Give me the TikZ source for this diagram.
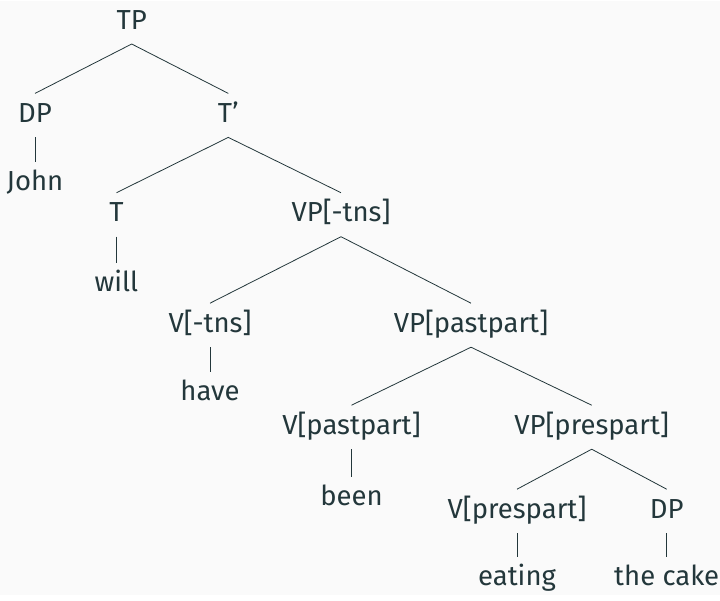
\documentclass[tikz,border=0pt]{standalone}
\usepackage{fontspec}
\setmainfont{Fira Sans}
\usepackage{tikz}
\definecolor{darkteal}{HTML}{23373B}
\definecolor{bgpaper}{HTML}{FAFAFA}
\tikzset{cat/.style={anchor=base,inner sep=0pt,outer sep=0pt,text height=29pt,text depth=15pt,font=\fontsize{27.5}{33}\selectfont,text=darkteal},
         branch/.style={draw=darkteal,line width=0.8pt}}
\begin{document}
\begin{tikzpicture}[x=1pt,y=-1pt]
                    \fill [bgpaper] (0,0) rectangle (720,594);
                    \node [cat] (tp) at (131.7,28.3) {TP};
                    \node [cat] (dp) at (35,121.7) {DP};
                    \node [cat] (tbar) at (228.3,121.7) {T'};
                    \node [cat] (john) at (35,190) {John};
                    \node [cat] (t) at (116.5,221) {T};
                    \node [cat] (vptns) at (341,221) {VP[-tns]};
                    \node [cat] (will) at (116.5,291) {will};
                    \node [cat] (vtns) at (210,331.5) {V[-tns]};
                    \node [cat] (vppast) at (471,331.5) {VP[pastpart]};
                    \node [cat] (have) at (210,400) {have};
                    \node [cat] (vpast) at (351.5,433.5) {V[pastpart]};
                    \node [cat] (vppres) at (591.7,433.5) {VP[prespart]};
                    \node [cat] (been) at (351.5,505) {been};
                    \node [cat] (vpres) at (517,517.5) {V[prespart]};
                    \node [cat] (dpobj) at (666.7,517.5) {DP};
                    \node [cat] (eating) at (517,585) {eating};
                    \node [cat] (cake) at (666.7,585) {the cake};
                    \draw [branch] (dp.north) -- (tp.south) -- (tbar.north);
                    \draw [branch] (dp.south) -- (john.north);
                    \draw [branch] (t.north) -- (tbar.south) -- (vptns.north);
                    \draw [branch] (t.south) -- (will.north);
                    \draw [branch] (vtns.north) -- (vptns.south) -- (vppast.north);
                    \draw [branch] (vtns.south) -- (have.north);
                    \draw [branch] (vpast.north) -- (vppast.south) -- (vppres.north);
                    \draw [branch] (vpast.south) -- (been.north);
                    \draw [branch] (vpres.north) -- (vppres.south) -- (dpobj.north);
                    \draw [branch] (vpres.south) -- (eating.north);
                    \draw [branch] (dpobj.south) -- (cake.north);
                \end{tikzpicture}
\end{document}
